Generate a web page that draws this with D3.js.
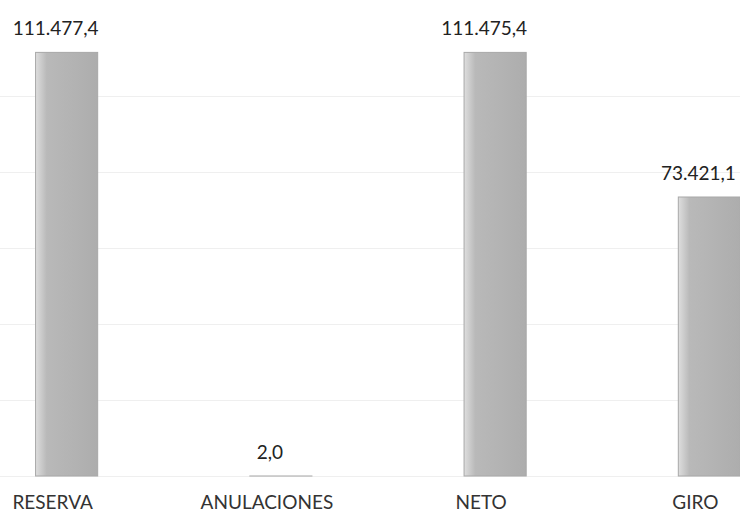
<!DOCTYPE html>
<html>
<head>
<meta charset="utf-8">
<script src="https://cdn.jsdelivr.net/npm/d3@7"></script>
<style>
  html, body { margin: 0; padding: 0; background: #fff; }
  svg { display: block; }
</style>
</head>
<body>
<svg id="chart" width="740" height="517"></svg>
<script>
const categories = ["RESERVA", "ANULACIONES", "NETO", "GIRO"];
const values = [111477.4, 2.0, 111475.4, 73421.1];
const valueLabels = ["111.477,4", "2,0", "111.475,4", "73.421,1"];
const gridTicks = [0, 20000, 40000, 60000, 80000, 100000];

const W = 740, H = 517;
const svg = d3.select("#chart");

const x = d3.scaleBand()
  .domain(categories)
  .range([-40.5, 816.5])
  .paddingInner(0.71)
  .paddingOuter(0.355);

const y = d3.scaleLinear()
  .domain([0, 120000])
  .range([476, 20]);

const defs = svg.append("defs");
const grad = defs.append("linearGradient").attr("id", "barGrad")
  .attr("x1", "0%").attr("x2", "100%").attr("y1", "0%").attr("y2", "0%");
grad.append("stop").attr("offset", "0%").attr("stop-color", "#dedede");
grad.append("stop").attr("offset", "18%").attr("stop-color", "#b9b9b9");
grad.append("stop").attr("offset", "100%").attr("stop-color", "#adadad");

// faint gridlines
svg.append("g")
  .selectAll("line")
  .data(gridTicks)
  .join("line")
  .attr("x1", 0).attr("x2", W)
  .attr("y1", d => Math.round(y(d)) + 0.5)
  .attr("y2", d => Math.round(y(d)) + 0.5)
  .attr("stroke", "#efefef")
  .attr("stroke-width", 1);

// bars
svg.append("g")
  .selectAll("rect")
  .data(values)
  .join("rect")
  .attr("x", (d, i) => x(categories[i]))
  .attr("width", x.bandwidth())
  .attr("y", d => y(d))
  .attr("height", d => y(0) - y(d))
  .attr("fill", "url(#barGrad)")
  .attr("stroke", "#a8a8a8")
  .attr("stroke-width", 1);

// value labels
svg.append("g")
  .selectAll("text")
  .data(values)
  .join("text")
  .attr("x", (d, i) => x(categories[i]) + x.bandwidth() / 2 - 11)
  .attr("y", d => y(d) - 17)
  .attr("text-anchor", "middle")
  .attr("font-family", "Lato, 'Open Sans', sans-serif")
  .attr("font-size", 19)
  .attr("fill", "#222")
  .text((d, i) => valueLabels[i]);

// category axis labels
const xAxis = d3.axisBottom(x).tickSize(0).tickPadding(0);
const gx = svg.append("g").attr("transform", "translate(-14,509)").call(xAxis);
gx.select(".domain").remove();
gx.selectAll("text")
  .attr("y", 0)
  .attr("dy", 0)
  .attr("font-family", "Lato, 'Open Sans', sans-serif")
  .attr("font-size", 19)
  .attr("fill", "#333");
</script>
</body>
</html>
